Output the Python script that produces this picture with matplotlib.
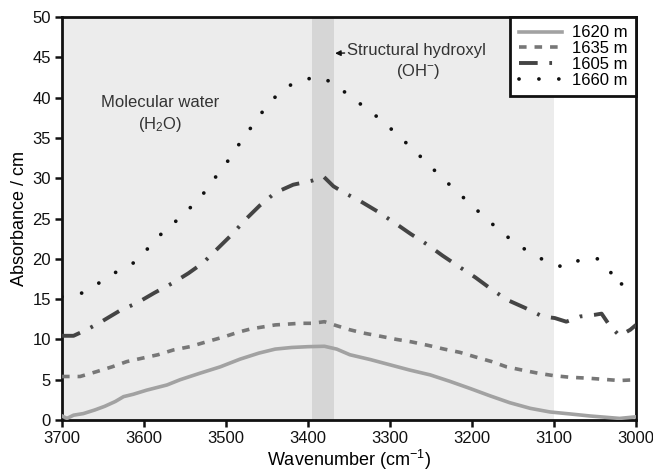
import matplotlib
matplotlib.use("Agg")
import matplotlib.pyplot as plt

plt.rcParams['font.family'] = ['Liberation Sans', 'DejaVu Sans']
plt.rcParams['mathtext.fontset'] = 'custom'
plt.rcParams['mathtext.rm'] = 'Liberation Sans'
plt.rcParams['mathtext.it'] = 'Liberation Sans'
plt.rcParams['mathtext.default'] = 'regular'

# spectra, absorbance per cm vs wavenumber
wn_1620 = [3700, 3694, 3686, 3674, 3660, 3648, 3635, 3625, 3613, 3597, 3572, 3556, 3532, 3507,
           3483, 3460, 3440, 3420, 3400, 3380, 3365, 3349, 3324, 3300, 3276, 3251, 3227, 3202,
           3178, 3154, 3129, 3105, 3080, 3056, 3020, 3000]
abs_1620 = [0.5, 0.2, 0.6, 0.8, 1.25, 1.7, 2.3, 2.9, 3.2, 3.7, 4.35, 5.0, 5.8, 6.6,
            7.55, 8.3, 8.8, 9.0, 9.1, 9.15, 8.8, 8.1, 7.5, 6.85, 6.2, 5.6, 4.8, 3.9,
            3.0, 2.15, 1.45, 1.0, 0.75, 0.5, 0.2, 0.4]

wn_1635 = [3700, 3678, 3658, 3639, 3621, 3601, 3583, 3564, 3544, 3524, 3503, 3485, 3470, 3440,
           3410, 3395, 3380, 3365, 3349, 3333, 3312, 3292, 3274, 3253, 3234, 3215, 3195, 3176,
           3158, 3139, 3119, 3100, 3080, 3060, 3020, 3000]
abs_1635 = [5.4, 5.4, 6.0, 6.6, 7.25, 7.7, 8.1, 8.7, 9.1, 9.7, 10.3, 10.9, 11.3, 11.8,
            12.0, 12.0, 12.2, 11.7, 11.2, 10.8, 10.4, 10.0, 9.7, 9.25, 8.8, 8.4, 7.8, 7.25,
            6.6, 6.2, 5.8, 5.5, 5.3, 5.2, 4.9, 5.0]

wn_1605 = [3700, 3686, 3670, 3652, 3629, 3609, 3587, 3565, 3546, 3528, 3509, 3493, 3476, 3459,
           3440, 3418, 3395, 3381, 3369, 3356, 3337, 3314, 3292, 3275, 3255, 3236, 3217, 3196,
           3176, 3157, 3135, 3114, 3099, 3085, 3068, 3050, 3042, 3032, 3020, 3007, 3000]
abs_1605 = [10.45, 10.45, 11.2, 12.2, 13.6, 14.5, 15.8, 17.0, 18.2, 19.5, 21.4, 23.0, 24.9, 26.6,
            28.2, 29.2, 29.7, 30.2, 29.0, 28.2, 27.2, 25.8, 24.3, 23.1, 21.8, 20.4, 19.1, 17.7,
            16.2, 14.9, 13.9, 12.85, 12.65, 12.2, 12.85, 13.06, 13.2, 11.7, 10.45, 11.2, 11.8]

wn_1660 = [3700, 3676, 3655, 3635, 3614, 3597, 3581, 3563, 3545, 3529, 3515, 3500, 3487, 3473,
           3459, 3444, 3427, 3405, 3382, 3363, 3344, 3324, 3306, 3289, 3271, 3254, 3237, 3220,
           3202, 3184, 3166, 3148, 3128, 3109, 3087, 3066, 3046, 3033, 3023, 3006, 3000]
abs_1660 = [15.3, 15.75, 17.0, 18.3, 19.4, 21.1, 22.9, 24.5, 26.2, 27.9, 29.85, 31.8, 33.8, 35.8,
            37.8, 39.7, 41.3, 42.3, 42.5, 41.3, 39.8, 38.3, 36.8, 35.2, 33.5, 31.8, 30.1, 28.5,
            26.8, 25.1, 23.5, 22.0, 20.7, 19.65, 18.9, 20.0, 20.0, 18.8, 16.6, 17.5, 17.8]

# shaded spectral regions
water_range = (3700, 3100)
hydroxyl_range = (3395, 3368)

fig = plt.figure(figsize=(6.53, 4.73), dpi=100)
ax = fig.add_axes([0.095, 0.112, 0.879, 0.852])

ax.axvspan(*water_range, color='#ececec', zorder=0, lw=0)
ax.axvspan(*hydroxyl_range, color='#d6d6d6', zorder=1, lw=0)

ax.plot(wn_1620, abs_1620, color='#a2a2a2', lw=2.6, ls='-', label='1620 m', zorder=3)
ax.plot(wn_1635, abs_1635, color='#777777', lw=2.6, ls=(0, (2.1, 2.2)), label='1635 m', zorder=3)
ax.plot(wn_1605, abs_1605, color='#444444', lw=2.8, ls=(0, (4.8, 3.0, 0.7, 3.0)), label='1605 m', zorder=3)
ax.plot(wn_1660, abs_1660, color='#111111', lw=2.7, ls=(0, (0.01, 5.3)),
        dash_capstyle='round', label='1660 m', zorder=3)

ax.set_xlim(3700, 3000)
ax.set_ylim(0, 50)
ax.set_xticks(range(3700, 2999, -100))
ax.set_yticks(range(0, 51, 5))
ax.tick_params(direction='out', length=5, width=1.8, labelsize=12, colors='#111111', pad=3)
for s in ax.spines.values():
    s.set_linewidth(2)
    s.set_color('#111111')

ax.set_xlabel('Wavenumber (cm$^{-1}$)', fontsize=13, labelpad=1)
ax.set_ylabel('Absorbance / cm', fontsize=13, labelpad=3)

ax.text(3580, 39.4, 'Molecular water', ha='center', va='center', fontsize=12, color='#333333')
ax.text(3580, 36.7, '(H$_2$O)', ha='center', va='center', fontsize=12, color='#333333')
ax.annotate('Structural hydroxyl', xy=(3367, 45.5), xytext=(3352, 45.8),
            ha='left', va='center', fontsize=12, color='#333333',
            arrowprops=dict(arrowstyle='-|>', color='#111111', lw=1, mutation_scale=8,
                            shrinkA=0, shrinkB=0))
ax.text(3266, 43.3, '(OH$^{-}$)', ha='center', va='center', fontsize=12, color='#333333')

leg = ax.legend(loc='upper right', borderaxespad=0, fontsize=12, handlelength=2.6,
                labelspacing=0.05, fancybox=False, framealpha=1, edgecolor='#111111',
                borderpad=0.5, handletextpad=0.6)
leg.get_frame().set_linewidth(2)

fig.savefig('out.png', dpi=100)
